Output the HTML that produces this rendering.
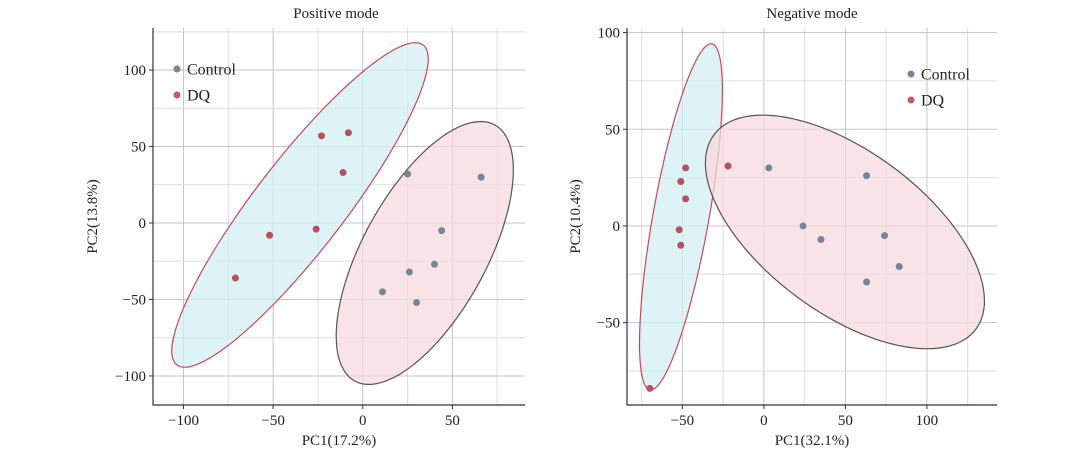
<!DOCTYPE html>
<html><head><meta charset="utf-8"><style>
body{margin:0;background:#fff;}
svg text{font-family:"Liberation Serif",serif;fill:#222;}
</style></head><body>
<svg id="chart" width="1080" height="455"></svg>
<script>
// Positive mode data
const posDQx=[-71,-52,-26,-23,-8,-11];
const posDQy=[-36,-8,-4,57,59,33];
const posCx=[25,66,44,40,26,11,30];
const posCy=[32,30,-5,-27,-32,-45,-52];
const posXTicks=[-100,-50,0,50];
const posYTicks=[-100,-50,0,50,100];
// ellipses: center x,y, major vector dx,dy, minor vector dx,dy (data units)
const posEllDQ=[-35,11.8,68.7,104.6,19.9,-17.9];
const posEllC=[34.6,-19.6,39.1,83.7,30.2,-19.6];
// Negative mode data
const negDQx=[-48,-51,-48,-52,-51,-70,-22];
const negDQy=[30,23,14,-2,-10,-84,31];
const negCx=[3,63,24,35,74,83,63];
const negCy=[30,26,0,-7,-5,-21,-29];
const negXTicks=[-50,0,50,100];
const negYTicks=[-50,0,50,100];
const negEllDQ=[-50.9,4.7,19,89.5,16.9,-2.5];
const negEllC=[49.7,-3.1,80.4,-50.2,-29.4,-33.6];

const NS="http://www.w3.org/2000/svg";
const svg=document.getElementById('chart');
function mk(tag,attrs,parent){const e=document.createElementNS(NS,tag);for(const k in attrs)e.setAttribute(k,attrs[k]);(parent||svg).appendChild(e);return e;}

function panel(o){
  const g=mk('g',{});
  
  
  const X=v=>o.px0+(v-o.x0)*(o.px1-o.px0)/(o.x1-o.x0);
  const Y=v=>o.py0+(v-o.y0)*(o.py1-o.py0)/(o.y1-o.y0);
  for(let v=Math.ceil(o.x0/25)*25;v<=o.x1;v+=25){
    const l=mk('line',{x1:X(v),x2:X(v),y1:o.top,y2:o.py0,stroke:v%50===0?'#c4c4c4':'#dedede','stroke-width':1},g);
    
    
  }
  for(let v=Math.ceil(o.y0/25)*25;v<=o.y1;v+=25){
    const l=mk('line',{x1:o.px0,x2:o.right,y1:Y(v),y2:Y(v),stroke:v%50===0?'#c4c4c4':'#dedede','stroke-width':1},g);
    
    
  }
  function ell(p,fill,stroke,nm){
    let d='';
    for(let i=0;i<=120;i++){const t=i/120*2*Math.PI;
      const x=p[0]+p[2]*Math.cos(t)+p[4]*Math.sin(t), y=p[1]+p[3]*Math.cos(t)+p[5]*Math.sin(t);
      d+=(i?'L':'M')+X(x).toFixed(1)+','+Y(y).toFixed(1);}
    const e=mk('path',{d:d+'Z',fill:fill,'fill-opacity':0.75,stroke:stroke,'stroke-width':1.2},g);
    
    
  }
  ell(o.eDQ,'#d3eff3','#c8485e','dq-confidence-ellipse');
  ell(o.eC,'#f5dadd','#555','control-confidence-ellipse');
  function pts(xs,ys,col,nm){xs.forEach((x,i)=>{const c=mk('circle',{cx:X(x),cy:Y(ys[i]),r:3.5,fill:col},g);
    
    });}
  pts(o.dqx,o.dqy,'#b8505f','dq-point');
  pts(o.cx,o.cy,'#77849a','control-point');
  const ax=mk('path',{d:`M${o.px0},${o.top}V${o.py0}H${o.right}`,stroke:'#333',fill:'none','stroke-width':1.2},g);
  
  
  o.xt.forEach(v=>{mk('line',{x1:X(v),x2:X(v),y1:o.py0,y2:o.py0+4,stroke:'#333'},g);
    const t=mk('text',{x:X(v),y:o.py0+20,'text-anchor':'middle','font-size':15},g);t.textContent=String(v).replace('-','\u2212');
    
    });
  o.yt.forEach(v=>{mk('line',{x1:o.px0-4,x2:o.px0,y1:Y(v),y2:Y(v),stroke:'#333'},g);
    const t=mk('text',{x:o.px0-7,y:Y(v)+5,'text-anchor':'end','font-size':15},g);t.textContent=String(v).replace('-','\u2212');
    
    });
  const ti=mk('text',{x:o.tx,y:18,'text-anchor':'middle','font-size':15},g);ti.textContent=o.title;
  
  
  const xl=mk('text',{x:o.xlx,y:445,'text-anchor':'middle','font-size':15},g);xl.textContent=o.xl;
  
  
  const yl=mk('text',{x:0,y:0,'text-anchor':'middle','font-size':15,transform:`translate(${o.ylx},${(o.top+o.py0)/2}) rotate(-90)`},g);yl.textContent=o.yl;
  
  
  [['Control','#77849a',0],['DQ','#c8586a',26]].forEach(([s,c,dy])=>{
    const le=mk('g',{},g);
    
    
    mk('circle',{cx:o.lx,cy:o.ly+dy,r:3.5,fill:c},le);
    const t=mk('text',{x:o.lx+10,y:o.ly+dy+5.5,'font-size':16},le);t.textContent=s;
  });
}
panel({name:'positive-mode-panel',px0:153,px1:525,x0:-117,x1:90.5,py0:405,py1:28,y0:-119,y1:127.5,top:28,right:525,
  eDQ:posEllDQ,eC:posEllC,dqx:posDQx,dqy:posDQy,cx:posCx,cy:posCy,xt:posXTicks,yt:posYTicks,
  title:'Positive mode',tx:336,xl:'PC1(17.2%)',xlx:339,yl:'PC2(13.8%)',ylx:97,lx:177,ly:69});
panel({name:'negative-mode-panel',px0:627,px1:997,x0:-84,x1:143,py0:405,py1:32,y0:-92.6,y1:100.3,top:28,right:997,
  eDQ:negEllDQ,eC:negEllC,dqx:negDQx,dqy:negDQy,cx:negCx,cy:negCy,xt:negXTicks,yt:negYTicks,
  title:'Negative mode',tx:812,xl:'PC1(32.1%)',xlx:812,yl:'PC2(10.4%)',ylx:580,lx:911,ly:74});
</script>
</body></html>
